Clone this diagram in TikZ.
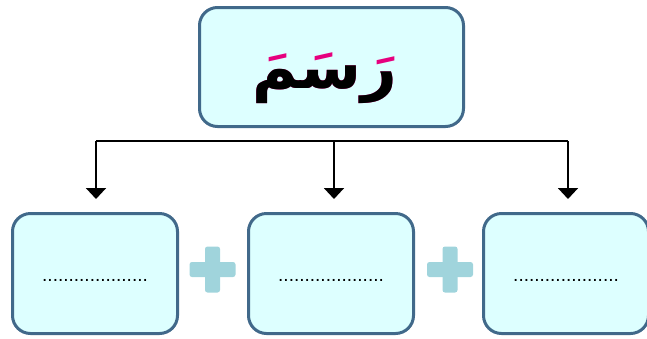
\documentclass[tikz,border=0pt]{standalone}
\usepackage{fontspec}
\usepackage{xcolor}
\usetikzlibrary{arrows.meta}
\TeXXeTstate=1
\newfontfamily\arabicfont[Script=Arabic]{DejaVu Sans}
\setmainfont{Liberation Sans}
\definecolor{boxline}{RGB}{65,105,138}
\definecolor{boxfill}{RGB}{221,255,255}
\definecolor{plusfill}{RGB}{160,212,220}
\definecolor{fathapink}{RGB}{230,0,126}

\begin{document}
\begin{tikzpicture}[x=1pt, y=-1pt,
    box/.style = {draw=boxline, fill=boxfill, line width=3pt,
        rounded corners=18pt, minimum width=165pt, minimum height=120pt,
        inner sep=0pt},
    bar/.style = {fill=plusfill, rounded corners=2.5pt, inner sep=0pt},
    link/.style = {line width=2pt, -{Triangle[width=20pt,length=11pt]}},
    blank/.style = {font=\fontsize{19}{20}\selectfont, anchor=base}]

\useasboundingbox (0,0) rectangle (647,338);

% Word box
\node[box, minimum width=264pt, minimum height=119pt] (title) at (331.5,67) {};
\node[anchor=base, inner sep=0pt, font=\fontsize{62}{64}\selectfont\bfseries] (word) at (325,88)
    {\arabicfont\rlap{\color{fathapink}\beginR رَسَمَ\endR}\beginR رسم\endR};

% Parts
\node[box] (part1) at (95,273.5) {};
\node[box] (part2) at (331,273.5) {};
\node[box] (part3) at (566,273.5) {};

\node[blank] at ([yshift=-8pt]part1.center) {....................};
\node[blank] at ([yshift=-8pt]part2.center) {....................};
\node[blank] at ([yshift=-8pt]part3.center) {....................};

% Plus signs
\foreach \px in {212.5,450} {
    \node[bar, minimum width=46pt, minimum height=15pt] at (\px,269.5) {};
    \node[bar, minimum width=15pt, minimum height=46pt] at (\px,269.5) {};
}

% Branches
\coordinate (left) at (96,141);
\coordinate (mid) at (334,141);
\coordinate (right) at (568,141);
\draw[line width=2pt] (left) -- (right);
\draw[link] (left) -- ([yshift=13pt]part1.north -| left);
\draw[link] (mid) -- ([yshift=13pt]part2.north -| mid);
\draw[link] (right) -- ([yshift=13pt]part3.north -| right);
\end{tikzpicture}
\end{document}
